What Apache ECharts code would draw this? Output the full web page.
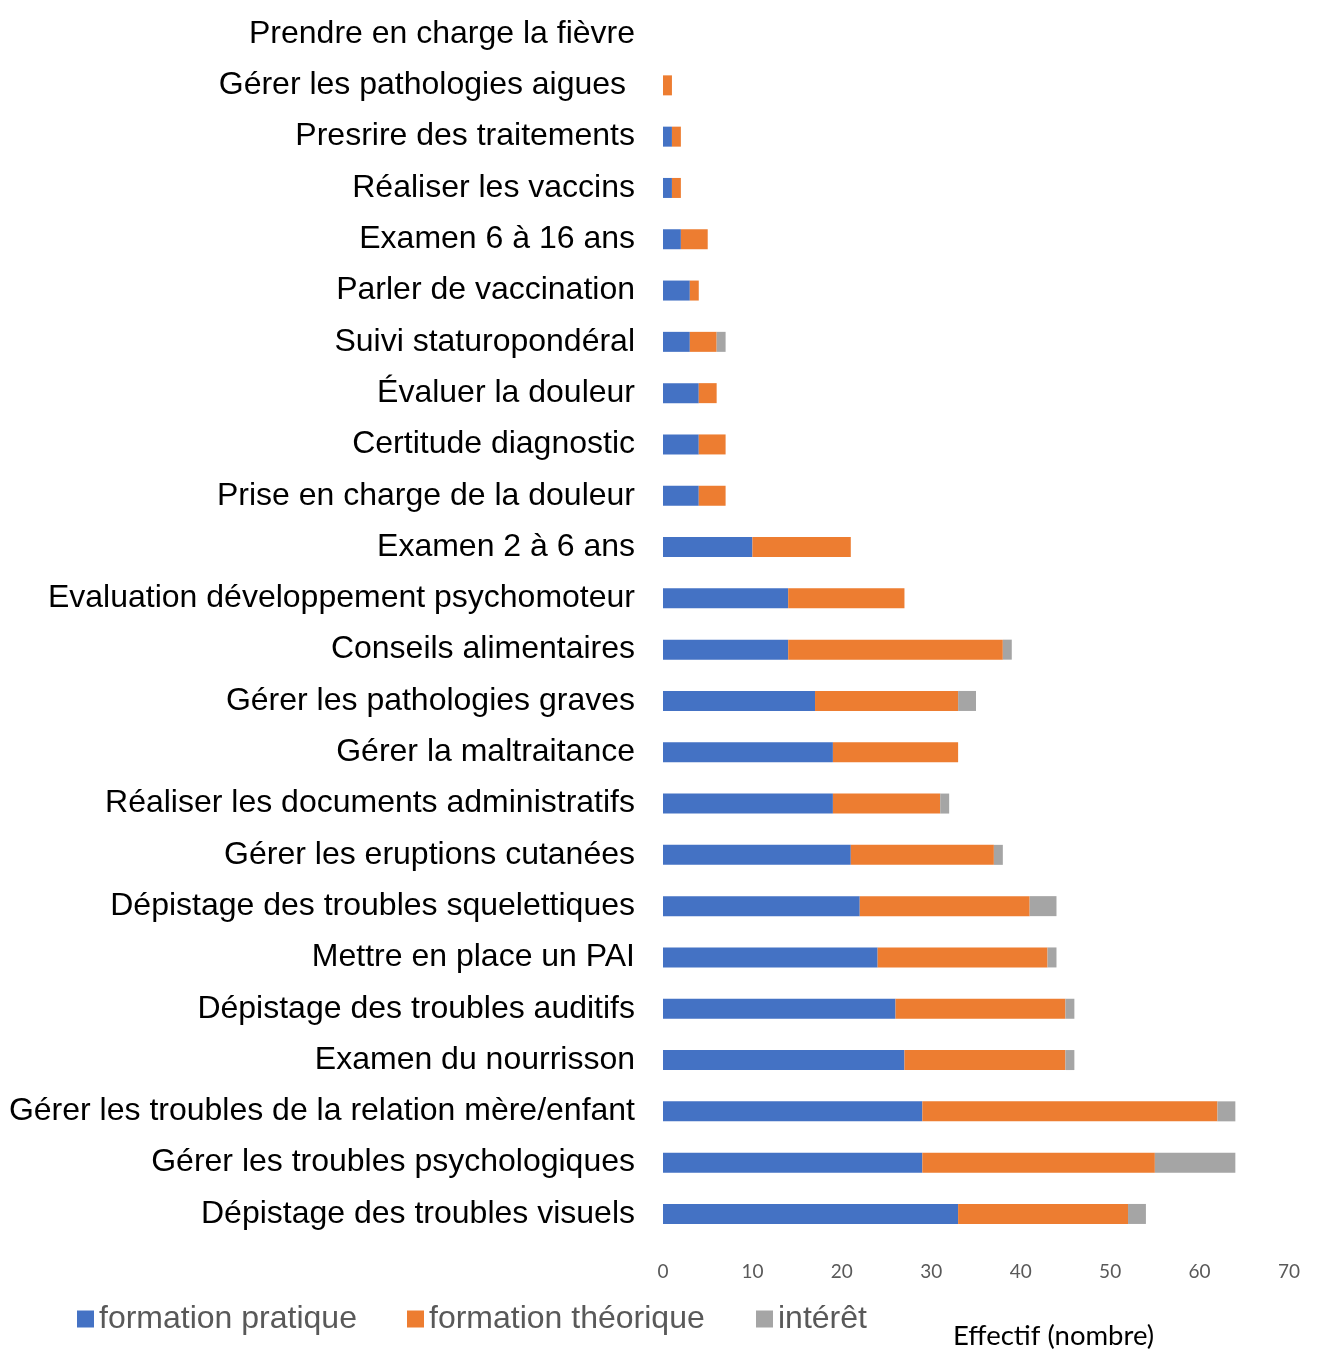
<!DOCTYPE html>
<html><head><meta charset="utf-8">
<script src="https://cdn.jsdelivr.net/npm/echarts@6/dist/echarts.min.js"></script>
<style>html,body{margin:0;padding:0;background:#fff}#c{width:1317px;height:1353px}</style>
</head><body><div id="c"></div>
<script>
const categories = [
  "Prendre en charge la fièvre",
  "Gérer les pathologies aigues ",
  "Presrire des traitements",
  "Réaliser les vaccins",
  "Examen 6 à 16 ans",
  "Parler de vaccination",
  "Suivi staturopondéral",
  "Évaluer la douleur",
  "Certitude diagnostic",
  "Prise en charge de la douleur",
  "Examen 2 à 6 ans",
  "Evaluation développement psychomoteur",
  "Conseils alimentaires",
  "Gérer les pathologies graves",
  "Gérer la maltraitance",
  "Réaliser les documents administratifs",
  "Gérer les eruptions cutanées",
  "Dépistage des troubles squelettiques",
  "Mettre en place un PAI",
  "Dépistage des troubles auditifs",
  "Examen du nourrisson",
  "Gérer les troubles de la relation mère/enfant",
  "Gérer les troubles psychologiques",
  "Dépistage des troubles visuels"
];
const formationPratique  = [0,0,1,1,2,3,3,4,4,4,10,14,14,17,19,19,21,22,24,26,27,29,29,33];
const formationTheorique = [0,1,1,1,3,1,3,2,3,3,11,13,24,16,14,12,16,19,19,19,18,33,26,19];
const interet            = [0,0,0,0,0,0,1,0,0,0,0,0,1,2,0,1,1,3,1,1,1,2,9,2];
const xTicks = [0,10,20,30,40,50,60,70];
const seriesNames = ["formation pratique","formation théorique","intérêt"];
const colors = ["#4472C4","#ED7D31","#A5A5A5"];

const chart = echarts.init(document.getElementById('c'));
const legendBase = {
  orient:'horizontal', itemWidth:17, itemHeight:17, icon:'rect', itemGap:6,
  textStyle:{fontFamily:'Liberation Sans Narrow, Liberation Sans, Arial', fontSize:32, color:'#595959'},
  top:1298, selectedMode:false
};
chart.setOption({
  animation:false,
  grid:{left:663, width:626, top:8.4, height:1231.2, containLabel:false},
  legend:[
    Object.assign({}, legendBase, {left:72, data:[seriesNames[0]]}),
    Object.assign({}, legendBase, {left:402, data:[seriesNames[1]]}),
    Object.assign({}, legendBase, {left:751, data:[seriesNames[2]]})
  ],
  xAxis:{
    type:'value', min:xTicks[0], max:xTicks[xTicks.length-1], interval:10,
    splitLine:{show:false}, axisLine:{show:false}, axisTick:{show:false},
    axisLabel:{color:'#595959', fontSize:19, fontFamily:'Lato, Carlito, sans-serif', margin:23}
  },
  yAxis:{
    type:'category', data:categories, inverse:true,
    axisLine:{show:false}, axisTick:{show:false},
    axisLabel:{color:'#000', fontSize:32, fontFamily:'Liberation Sans, Arial', margin:28, interval:0, padding:[6,0,0,0]}
  },
  graphic:[{
    type:'text', left:953, top:1322,
    style:{text:'Effectif (nombre)', fontSize:27.5, fontFamily:'Lato, Carlito, sans-serif', fill:'#000'}
  }],
  series:[formationPratique, formationTheorique, interet].map((d,i)=>({
    name:seriesNames[i], type:'bar', stack:'total', data:d, barWidth:20,
    itemStyle:{color:colors[i]}
  }))
});
</script></body></html>
